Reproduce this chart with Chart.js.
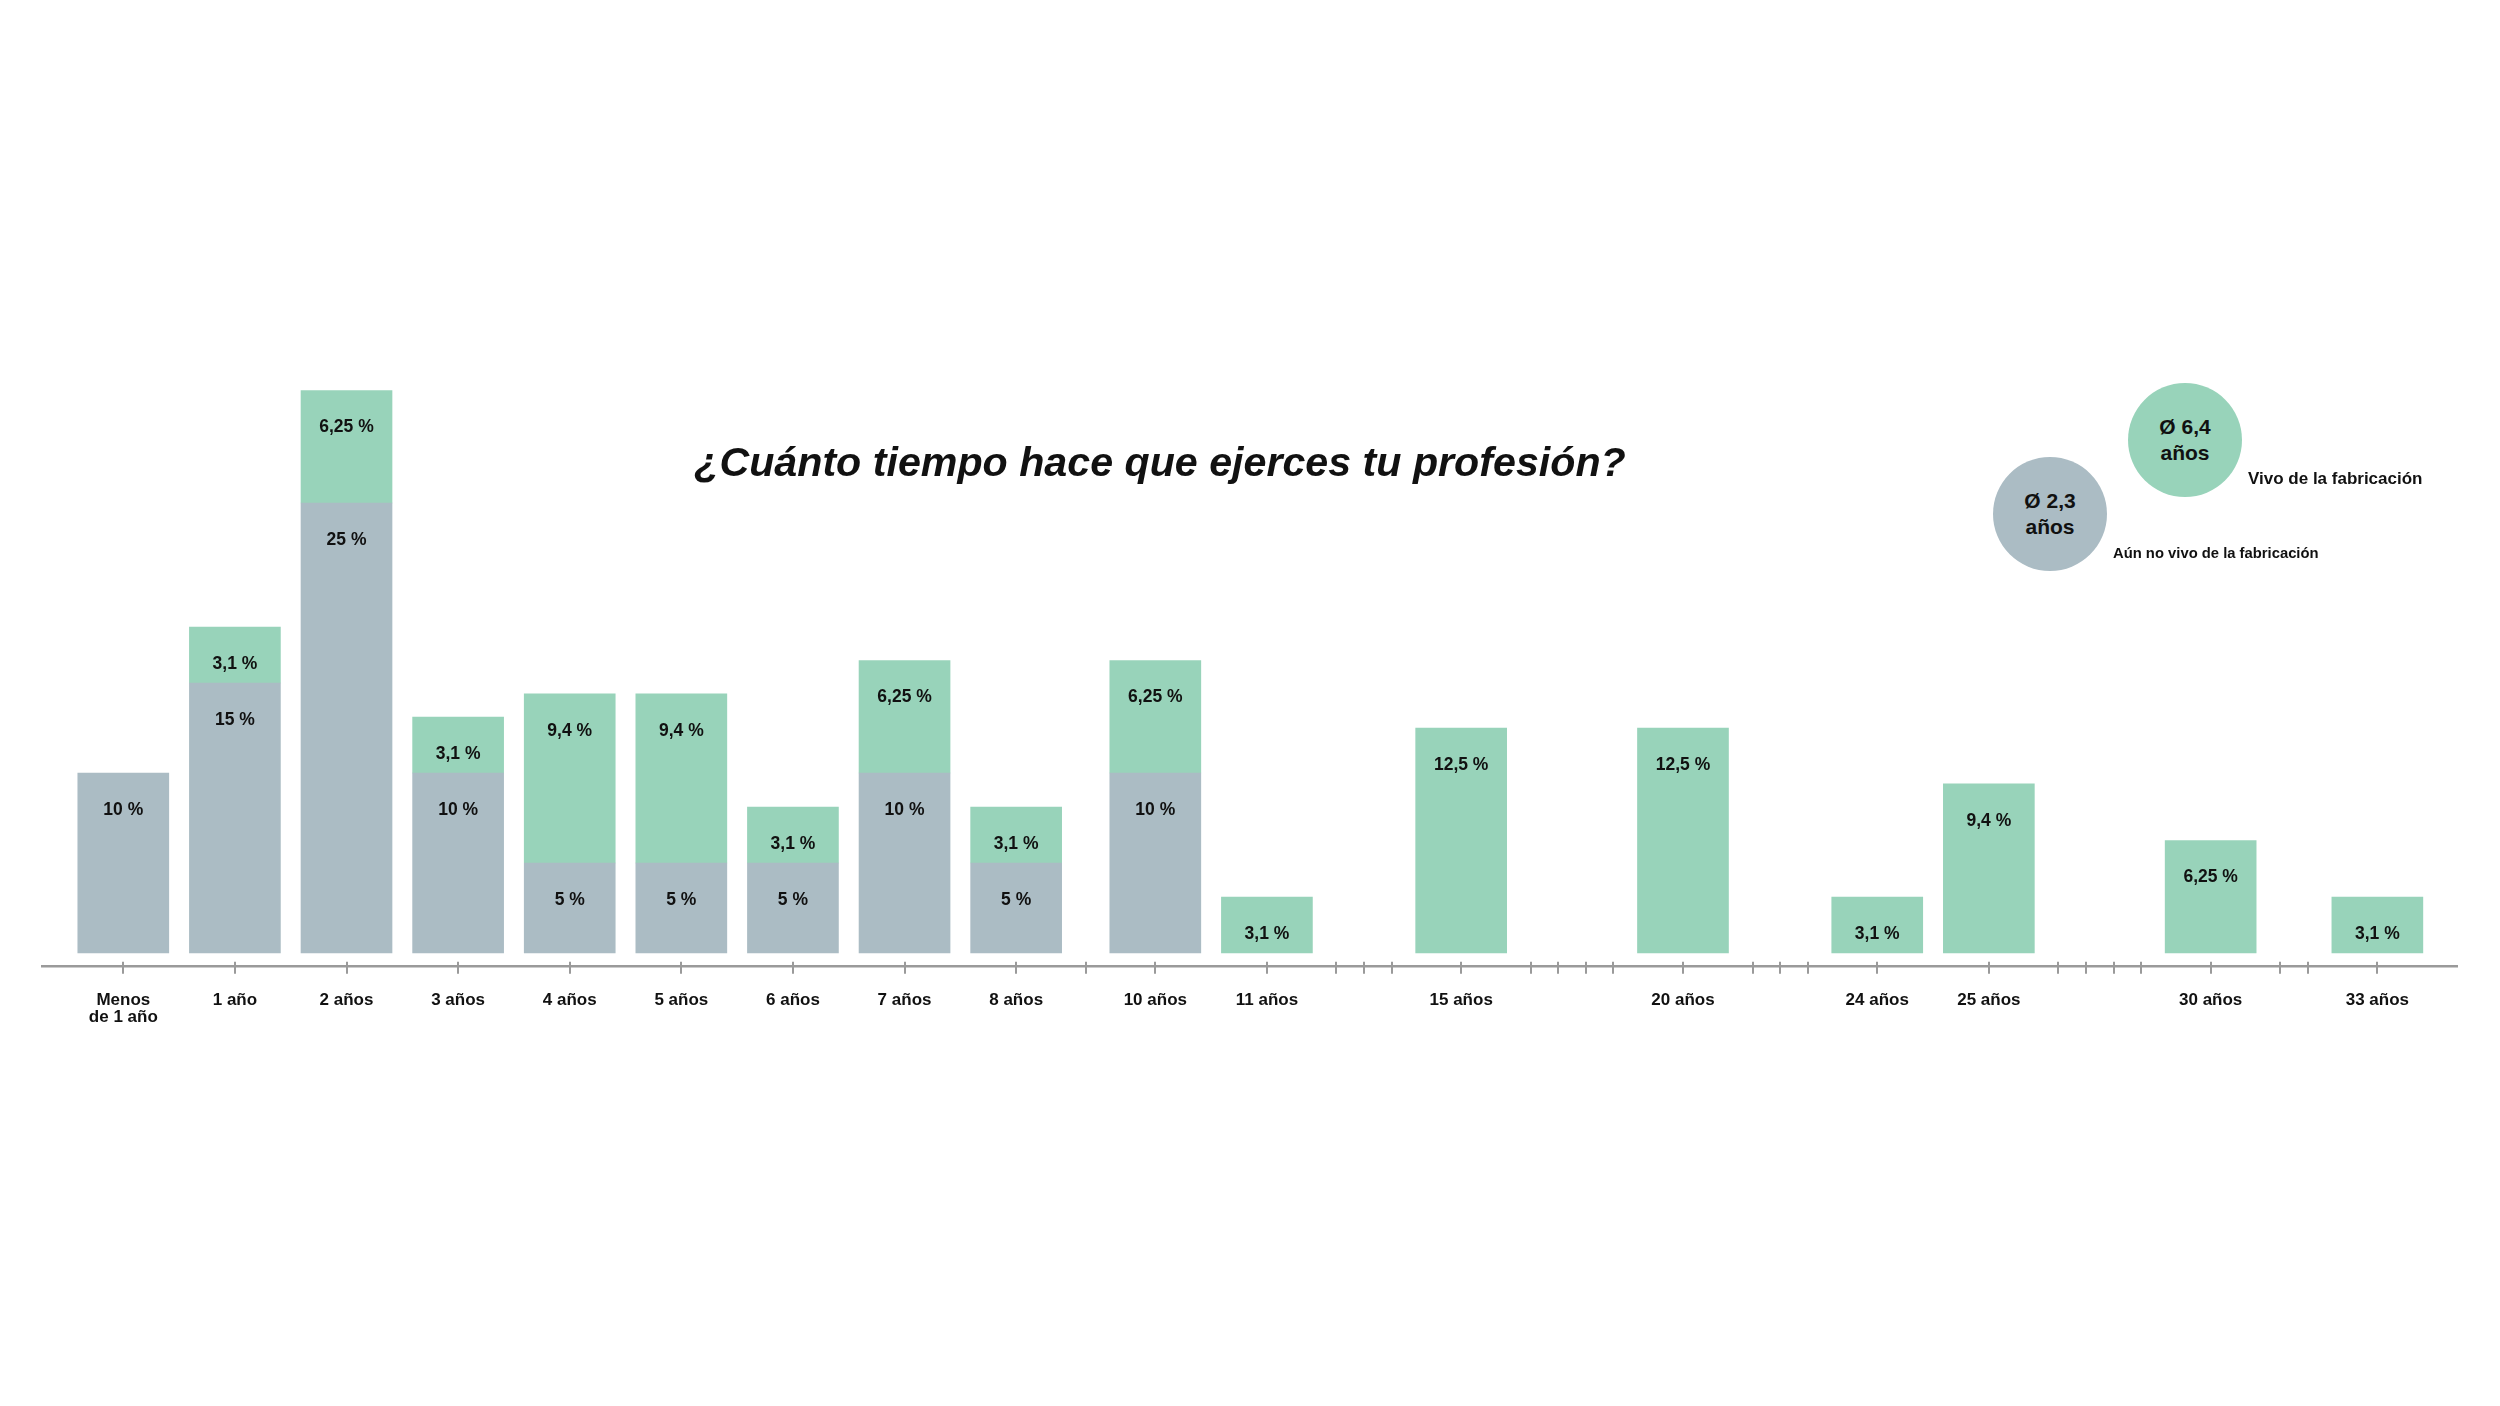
<!DOCTYPE html>
<html>
<head>
<meta charset="utf-8">
<script src="https://cdn.jsdelivr.net/npm/chart.js@4.4.1/dist/chart.umd.min.js"></script>
<style>
html,body{margin:0;padding:0;background:#fff;}
#wrap{position:relative;width:2500px;height:1406px;overflow:hidden;font-family:"Liberation Sans",Arial,Helvetica,sans-serif;color:#111;}
#c{position:absolute;left:0;top:0;}
.title{position:absolute;left:1160px;top:463px;transform:translate(-50%,-50%);font-weight:bold;font-style:italic;font-size:41.2px;line-height:1;white-space:nowrap;}
.bubble{position:absolute;width:114px;height:114px;border-radius:50%;display:flex;flex-direction:column;align-items:center;justify-content:center;font-weight:bold;font-size:21px;line-height:26px;}
.lbl{position:absolute;font-weight:bold;white-space:nowrap;line-height:1;transform:translateY(-50%);}
</style>
</head>
<body>
<div id="wrap">
  <canvas id="c" width="2500" height="1406"></canvas>
  <div class="title">¿Cuánto tiempo hace que ejerces tu profesión?</div>
  <div class="bubble" id="bGreen" style="left:2128px;top:383px;"><span id="tGreen1"></span><span id="tGreen2"></span></div>
  <div class="lbl" id="lGreen" style="left:2248px;top:478px;font-size:17px;"></div>
  <div class="bubble" id="bGray" style="left:1993px;top:457px;"><span id="tGray1"></span><span id="tGray2"></span></div>
  <div class="lbl" id="lGray" style="left:2113px;top:553px;font-size:14.8px;"></div>
</div>
<script>
// ---- data ----
const categories = [['Menos','de 1 año'],'1 año','2 años','3 años','4 años','5 años','6 años','7 años','8 años','10 años','11 años','15 años','20 años','24 años','25 años','30 años','33 años'];
const categoryYears = [0,1,2,3,4,5,6,7,8,10,11,15,20,24,25,30,33];
const axisLastYear = 33;
const aunNoVivo = [10,15,25,10,5,5,5,10,5,10,null,null,null,null,null,null,null];
const vivo = [null,3.1,6.25,3.1,9.4,9.4,3.1,6.25,3.1,6.25,3.1,12.5,12.5,3.1,9.4,6.25,3.1];
const seriesNames = ['Aún no vivo de la fabricación','Vivo de la fabricación'];
const averages = ['2,3','6,4'];

const GRAY = '#abbcc4', GREEN = '#98d3ba';

// legend texts
document.getElementById('tGreen1').textContent = 'Ø ' + averages[1];
document.getElementById('tGreen2').textContent = 'años';
document.getElementById('tGray1').textContent = 'Ø ' + averages[0];
document.getElementById('tGray2').textContent = 'años';
document.getElementById('lGreen').textContent = seriesNames[1];
document.getElementById('lGray').textContent = seriesNames[0];
document.getElementById('bGreen').style.background = GREEN;
document.getElementById('bGray').style.background = GRAY;

// ---- axis layout: years with bars get a wide slot, missing years a narrow one ----
const BAR_SLOT = 4.051, GAP_SLOT = 1;
const tickPos = [], tickText = [];
let cum = 0;
for (let yr = 0; yr <= axisLastYear; yr++) {
  const idx = categoryYears.indexOf(yr);
  const w = idx >= 0 ? BAR_SLOT : GAP_SLOT;
  tickPos.push(cum + w / 2);
  tickText.push(idx >= 0 ? categories[idx] : '');
  cum += w;
}
const xOfCat = i => tickPos[categoryYears[i]];

const FONT = '"Liberation Sans", Arial, Helvetica, sans-serif';

const valueLabels = {
  id: 'valueLabels',
  afterDatasetsDraw(chart) {
    const ctx = chart.ctx;
    ctx.save();
    ctx.font = 'bold 17.5px ' + FONT;
    ctx.fillStyle = '#111';
    ctx.textAlign = 'center';
    ctx.textBaseline = 'middle';
    chart.data.datasets.forEach((ds, di) => {
      const meta = chart.getDatasetMeta(di);
      meta.data.forEach((bar, j) => {
        const v = ds.data[j].y;
        if (v == null) return;
        ctx.fillText(String(v).replace('.', ',') + ' %', bar.x, bar.y + 37);
      });
    });
    ctx.restore();
  }
};

const axisTicks = {
  id: 'axisTicks',
  afterDraw(chart) {
    const s = chart.scales.x;
    const ctx = chart.ctx;
    const y0 = s.top + 1;
    ctx.save();
    ctx.strokeStyle = '#9a9a9a';
    ctx.lineWidth = 2;
    s.ticks.forEach(t => {
      const px = Math.round(s.getPixelForValue(t.value));
      ctx.beginPath();
      ctx.moveTo(px, y0 - 6);
      ctx.lineTo(px, y0 + 6);
      ctx.stroke();
    });
    ctx.restore();
  }
};

new Chart(document.getElementById('c'), {
  type: 'bar',
  data: {
    datasets: [
      { label: seriesNames[0], data: categoryYears.map((_, i) => ({ x: xOfCat(i), y: aunNoVivo[i] })), backgroundColor: GRAY, borderWidth: 0, barThickness: 91 },
      { label: seriesNames[1], data: categoryYears.map((_, i) => ({ x: xOfCat(i), y: vivo[i] })), backgroundColor: GREEN, borderWidth: 0, barThickness: 91 }
    ]
  },
  options: {
    responsive: false,
    devicePixelRatio: 1,
    animation: false,
    layout: { padding: { left: 42.7, right: 43, top: 370.7, bottom: 359.3 } },
    plugins: { legend: { display: false }, tooltip: { enabled: false }, title: { display: false } },
    scales: {
      x: {
        type: 'linear', stacked: true, offset: false,
        min: -0.9, max: cum + 0.865,
        grid: { display: false, drawTicks: false, offset: false },
        border: { display: true, color: '#9a9a9a', width: 2.5 },
        afterBuildTicks: s => { s.ticks = tickPos.map(v => ({ value: v })); },
        afterFit: s => { s.height = 80; },
        ticks: {
          autoSkip: false, maxRotation: 0, minRotation: 0, padding: 25.5, color: '#111',
          font: { family: FONT, size: 17, weight: 'bold', lineHeight: 0.97 },
          callback: (v, i) => tickText[i]
        }
      },
      y: { display: false, stacked: true, min: -0.761, max: 32.35 }
    }
  },
  plugins: [valueLabels, axisTicks]
});
</script>
</body>
</html>
